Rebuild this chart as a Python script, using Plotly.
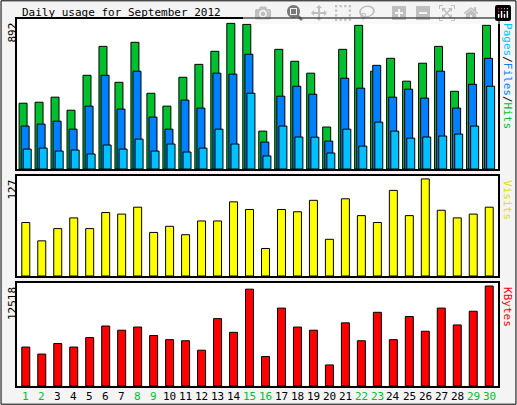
import plotly.graph_objects as go

days = [str(i) for i in range(1, 31)]
weekend = {1, 2, 8, 9, 15, 16, 22, 23, 29, 30}
hits = [403,409,440,360,574,751,531,776,464,385,562,641,721,892,886,232,733,660,587,257,733,880,599,678,538,648,751,476,709,880]
files = [263,275,293,244,385,574,367,599,318,244,422,373,587,581,703,165,446,507,458,171,556,495,635,440,489,434,599,373,519,678]
pages = [122,128,110,116,92,147,122,183,110,153,104,128,244,153,464,80,263,196,195,98,244,140,287,232,189,196,202,214,263,507]
visits = [70,46,62,76,62,83,81,90,57,65,54,72,72,97,87,36,87,84,99,48,101,79,70,112,79,127,86,76,81,90]
kbytes = [4875,3997,5315,4875,6061,7511,6984,7379,6325,5798,5666,4480,8433,6720,12123,3690,9751,7379,6984,2635,7906,5666,9224,5798,8697,6852,9751,7643,9356,12518]

x = list(range(1, 31))
line = dict(color="black", width=1)
fig = go.Figure()
fig.add_bar(x=x, y=hits, width=0.5, offset=-0.42, marker=dict(color="#00c030", line=line), xaxis="x", yaxis="y")
fig.add_bar(x=x, y=files, width=0.5, offset=-0.29, marker=dict(color="#0080ff", line=line), xaxis="x", yaxis="y")
fig.add_bar(x=x, y=pages, width=0.5, offset=-0.16, marker=dict(color="#00c0ff", line=line), xaxis="x", yaxis="y")
fig.add_bar(x=x, y=visits, width=0.5, marker=dict(color="#ffff00", line=line), xaxis="x2", yaxis="y2")
fig.add_bar(x=x, y=kbytes, width=0.5, marker=dict(color="#ff0000", line=line), xaxis="x3", yaxis="y3")

dom = [17/517, 498/517]
doms = {"": [1-169/405, 1-19/405], "2": [1-276/405, 1-176/405], "3": [1-386/405, 1-283/405]}
maxes = {"": max(hits), "2": max(visits), "3": max(kbytes)}
font = dict(family="DejaVu Sans Mono", size=11, color="black")
layout = dict(barmode="overlay", showlegend=False, width=517, height=405,
              margin=dict(l=0, r=0, t=0, b=0), paper_bgcolor="#f4f4f4", plot_bgcolor="white",
              font=font)
for k, d in doms.items():
    layout["xaxis" + k] = dict(domain=dom, range=[0.45, 30.55], showgrid=False, zeroline=False,
                               showticklabels=False, fixedrange=True,
                               anchor="y" + k, showline=True, linecolor="black", mirror=True, linewidth=2)
    layout["yaxis" + k] = dict(domain=d, range=[0, maxes[k] * 1.03], showgrid=False, zeroline=False,
                               showticklabels=False, anchor="x" + k,
                               showline=True, linecolor="black", mirror=True, linewidth=2)
fig.update_layout(**layout)

ann = []
ann.append(dict(text="Daily usage for September 2012", x=20/517, y=1-4/405, xref="paper", yref="paper",
                xanchor="left", yanchor="top", showarrow=False, font=font))
for k, lab in zip(["", "2", "3"], [str(max(hits)), str(max(visits)), str(max(kbytes))]):
    ann.append(dict(text=lab, x=4/517, y=doms[k][1] - 0.005, xref="paper", yref="paper", textangle=-90,
                    xanchor="left", yanchor="top", showarrow=False, font=font))
ann.append(dict(text="<span style='color:#00c0ff'>Pages</span>/<span style='color:#0080ff'>Files</span>/<span style='color:#00c030'>Hits</span>",
                x=508/517, y=doms[""][1] - 0.005, xref="paper", yref="paper", textangle=90,
                xanchor="center", yanchor="top", showarrow=False, font=font))
ann.append(dict(text="<span style='color:#e0e000'>Visits</span>", x=508/517, y=doms["2"][1] - 0.005,
                xref="paper", yref="paper", textangle=90, xanchor="center", yanchor="top", showarrow=False, font=font))
ann.append(dict(text="<span style='color:#ff0000'>KBytes</span>", x=508/517, y=doms["3"][1] - 0.005,
                xref="paper", yref="paper", textangle=90, xanchor="center", yanchor="top", showarrow=False, font=font))
for i, d in zip(x, days):
    ann.append(dict(text=d, x=i, y=1-388/405, xref="x3", yref="paper", yanchor="top", showarrow=False,
                    font=dict(family="DejaVu Sans Mono", size=11, color="#00c030" if i in weekend else "black")))
fig.update_layout(annotations=ann)
fig.add_shape(type="rect", xref="paper", yref="paper", x0=0.002, y0=0.002, x1=0.998, y1=0.998,
              line=dict(color="black", width=1))
fig.write_html("out.html")

with open("out.html", encoding="utf-8") as f:
    html = f.read()
html = html.replace("<head>", "<head><style>html,body{margin:0;padding:0;overflow:hidden}</style>", 1)
with open("out.html", "w", encoding="utf-8") as f:
    f.write(html)
